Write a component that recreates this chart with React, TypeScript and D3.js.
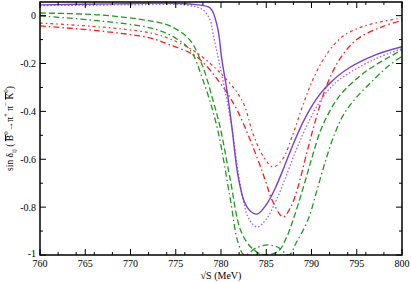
import React from 'react';
import * as d3 from 'd3';

// sin(delta) readings, [sqrt(s) in MeV, value]
const purpleSolid: [number, number][] = [
  [760, 0.045], [768, 0.049], [774.4, 0.052], [777, 0.047], [778.8, 0.032],
  [779.6, -0.047], [780.1, -0.185], [780.7, -0.323], [781.2, -0.465], [781.9, -0.674],
  [782.6, -0.78], [783.2, -0.815], [784.0, -0.829], [785.0, -0.79], [786.0, -0.72],
  [787.0, -0.63], [788.0, -0.535], [789.0, -0.45], [790.0, -0.38], [791.0, -0.325],
  [792.0, -0.283], [794.0, -0.222], [797.0, -0.165], [800, -0.13],
];
const purpleDotted: [number, number][] = [
  [760, 0.042], [770, 0.045], [776.2, 0.044], [778.0, 0.024], [778.8, -0.018],
  [779.1, -0.072], [779.9, -0.214], [781.0, -0.423], [782.3, -0.741], [783.1, -0.85],
  [784.0, -0.883], [785.0, -0.85], [786.0, -0.78], [787.0, -0.69], [788.0, -0.59],
  [789.0, -0.5], [790.0, -0.42], [791.0, -0.355], [792.0, -0.305], [793.15, -0.265],
  [796.8, -0.185], [800, -0.138],
];
const greenDashed: [number, number][] = [
  [760, 0.011], [766.6, 0.003], [772.15, -0.022], [774.36, -0.043], [776.57, -0.102],
  [778.0, -0.214], [779.1, -0.352], [779.9, -0.465], [781.0, -0.68], [782.2, -0.9],
  [783.4, -0.971], [784.6, -0.998], [786.3, -0.985], [787.2, -0.93], [787.96, -0.854],
  [789.0, -0.73], [790.0, -0.6], [791.0, -0.48], [792.0, -0.4], [793.0, -0.34],
  [794.5, -0.28], [796.5, -0.22], [800, -0.143],
];
const greenDashDot: [number, number][] = [
  [760, -0.001], [766.6, -0.022], [772.15, -0.051], [774.36, -0.081], [776.57, -0.143],
  [778.0, -0.269], [779.56, -0.465], [781.0, -0.76], [781.9, -0.95], [782.6, -1.0],
  [783.9, -0.97], [785.2, -0.958], [786.4, -0.97], [787.5, -1.0], [788.3, -0.95],
  [789.6, -0.854], [790.6, -0.73], [791.6, -0.6], [792.6, -0.49], [793.6, -0.41],
  [795.0, -0.34], [796.8, -0.27], [798.5, -0.21], [800, -0.17],
];
const redLight: [number, number][] = [
  [760, -0.031], [766.6, -0.047], [772.15, -0.072], [774.36, -0.097], [777.35, -0.156],
  [780.66, -0.269], [782.4, -0.36], [783.6, -0.5], [784.7, -0.59], [785.75, -0.632],
  [786.8, -0.6], [787.9, -0.5], [789.0, -0.38], [790.0, -0.28], [791.2, -0.19],
  [792.3, -0.13], [793.5, -0.085], [795.0, -0.055], [796.8, -0.033], [800, -0.01],
];
const redDark: [number, number][] = [
  [760, -0.043], [766.6, -0.064], [772.15, -0.093], [774.36, -0.122], [777.35, -0.173],
  [779.89, -0.281], [781.77, -0.394], [784.09, -0.603], [785.0, -0.7], [785.64, -0.77],
  [786.85, -0.841], [787.7, -0.8], [788.5, -0.716], [789.5, -0.57], [790.5, -0.43],
  [791.7, -0.29], [793.15, -0.18], [795.0, -0.1], [797.9, -0.045], [800, -0.02],
];

const xDomain = [760, 800];
const yDomain = [-1, 0.057];

const W = 411;
const H = 282;
const plot = { left: 40, right: 402, top: 2, bottom: 255 };

const App = () => {
  const x = d3.scaleLinear().domain(xDomain).range([plot.left, plot.right]);
  const y = d3.scaleLinear().domain(yDomain).range([plot.bottom, plot.top]);

  const line = d3
    .line<[number, number]>()
    .x((d) => x(d[0]))
    .y((d) => y(d[1]))
    .curve(d3.curveCatmullRom.alpha(0.5));

  const series = [
    { data: greenDashed, color: '#1e9a1e', dash: '6,3', w: 1.3 },
    { data: greenDashDot, color: '#1e9a1e', dash: '6,3,1.5,3', w: 1.3 },
    { data: redDark, color: '#ff1a1a', dash: '6,3,1.5,3', w: 1.3 },
    { data: redLight, color: '#ff2a2a', dash: '3,3,1.5,3', w: 1.2 },
    { data: purpleDotted, color: '#9a66e6', dash: '1.5,2', w: 1.3 },
    { data: purpleSolid, color: '#7a3ed8', dash: null, w: 1.4 },
  ];

  const xMajor = x.ticks(8);
  const xMinor = x.ticks(16).filter((t) => !xMajor.includes(t));
  const yMajor = y.ticks(5).filter((t) => t <= 0);
  const yMinor = d3
    .range(-10, 1)
    .map((i) => i / 10)
    .filter((t) => !yMajor.some((m) => Math.abs(m - t) < 1e-9));

  const fmt = (t: number) => String(+t.toFixed(1));
  const serif = { fontFamily: "'Liberation Serif', 'Times New Roman', serif" };

  return (
    <svg width={W} height={H} style={{ position: 'absolute', left: 0, top: 0, background: '#fff' }}>
      <defs>
        <clipPath id='plot-clip'>
          <rect x={plot.left} y={plot.top} width={plot.right - plot.left} height={plot.bottom - plot.top} />
        </clipPath>
      </defs>

      <g clipPath='url(#plot-clip)'>
        {series.map((s, i) => (
          <path
            key={i}
            d={line(s.data) || ''}
            fill='none'
            stroke={s.color}
            strokeWidth={s.w}
            strokeDasharray={s.dash || undefined}
          />
        ))}
      </g>

      {/* ticks, inward on all four sides */}
      <g stroke='#000' strokeWidth={1}>
        {xMajor.map((t) => (
          <g key={'xM' + t}>
            <line x1={x(t)} x2={x(t)} y1={plot.bottom} y2={plot.bottom - 6} />
            <line x1={x(t)} x2={x(t)} y1={plot.top} y2={plot.top + 6} />
          </g>
        ))}
        {xMinor.map((t) => (
          <g key={'xm' + t}>
            <line x1={x(t)} x2={x(t)} y1={plot.bottom} y2={plot.bottom - 3} />
            <line x1={x(t)} x2={x(t)} y1={plot.top} y2={plot.top + 3} />
          </g>
        ))}
        {yMajor.map((t) => (
          <g key={'yM' + t}>
            <line x1={plot.left} x2={plot.left + 6} y1={y(t)} y2={y(t)} />
            <line x1={plot.right} x2={plot.right - 6} y1={y(t)} y2={y(t)} />
          </g>
        ))}
        {yMinor.map((t) => (
          <g key={'ym' + t}>
            <line x1={plot.left} x2={plot.left + 3} y1={y(t)} y2={y(t)} />
            <line x1={plot.right} x2={plot.right - 3} y1={y(t)} y2={y(t)} />
          </g>
        ))}
      </g>

      <rect
        x={plot.left}
        y={plot.top}
        width={plot.right - plot.left}
        height={plot.bottom - plot.top}
        fill='none'
        stroke='#000'
        strokeWidth={1.5}
      />

      <g style={{ ...serif, fontSize: '10px' }} fill='#000'>
        {xMajor.map((t) => (
          <text key={'xl' + t} x={x(t)} y={plot.bottom + 12} textAnchor='middle'>
            {t}
          </text>
        ))}
        {yMajor.map((t) => (
          <text key={'yl' + t} x={plot.left - 4} y={y(t) + (t === -1 ? 1.5 : 3.5)} textAnchor='end'>
            {fmt(t)}
          </text>
        ))}
        <text x={(plot.left + plot.right) / 2} y={H - 3} textAnchor='middle'>
          √S (MeV)
        </text>
      </g>

      <text
        transform={`translate(13, ${(plot.top + plot.bottom) / 2}) rotate(-90)`}
        textAnchor='middle'
        style={{ ...serif, fontSize: '9.5px' }}
        fill='#000'
      >
        <tspan>sin δ</tspan>
        <tspan fontSize={7} dy={3}>ij</tspan>
        <tspan dy={-3}> ( </tspan>
        <tspan textDecoration='overline'>B</tspan>
        <tspan fontSize={7} dy={-5}>0</tspan>
        <tspan dy={5}>→π</tspan>
        <tspan fontSize={7} dy={-5}>+</tspan>
        <tspan dy={5}> π</tspan>
        <tspan fontSize={7} dy={-5}>−</tspan>
        <tspan dy={5}> </tspan>
        <tspan textDecoration='overline'>K</tspan>
        <tspan fontSize={7} dy={-5}>0</tspan>
        <tspan dy={5}>)</tspan>
      </text>
    </svg>
  );
};

export default App;
